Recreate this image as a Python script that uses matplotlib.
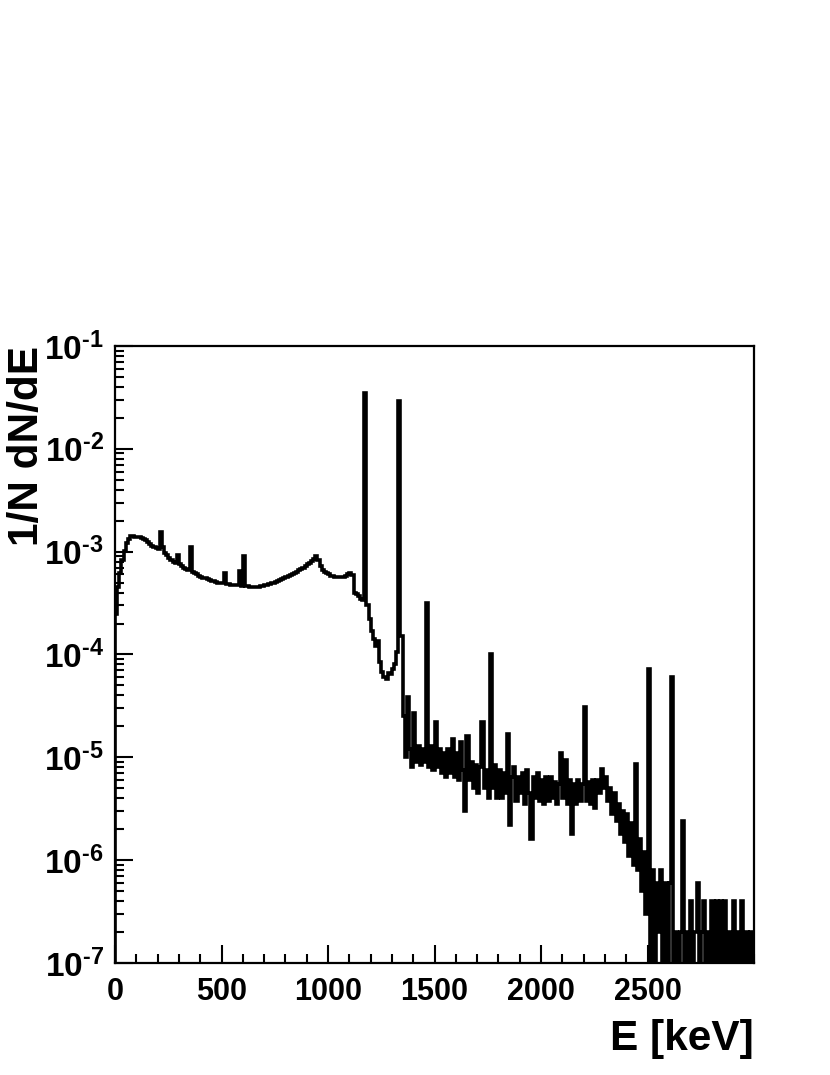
import numpy as np
import matplotlib
matplotlib.use("Agg")
import matplotlib.pyplot as plt
from matplotlib.ticker import FixedLocator, MultipleLocator, FuncFormatter, NullFormatter

plt.rcParams["font.family"] = "Liberation Sans"
plt.rcParams["font.weight"] = "bold"
plt.rcParams["mathtext.fontset"] = "custom"
plt.rcParams["mathtext.rm"] = "Liberation Sans:bold"
plt.rcParams["mathtext.it"] = "Liberation Sans:bold"
plt.rcParams["mathtext.bf"] = "Liberation Sans:bold"

# Histogramm: 10 keV Bins von 0 bis 3000 keV
bin_width = 10
energy_edges = np.arange(0, 3000 + bin_width, bin_width)

# 1/N dN/dE in Einheiten von 1e-6, eine Zeile pro 100 keV
spectrum_1e6 = [
    [250, 450, 620, 820, 1020, 1200, 1340, 1420, 1420, 1400],      # 0
    [1400, 1390, 1370, 1340, 1290, 1240, 1190, 1140, 1100, 1080],  # 100
    [1070, 1560, 1100, 980, 920, 870, 830, 800, 770, 930],         # 200
    [750, 730, 700, 680, 660, 1100, 630, 615, 600, 580],           # 300
    [570, 560, 550, 540, 530, 520, 515, 505, 500, 495],            # 400
    [490, 620, 485, 480, 478, 475, 472, 470, 650, 465],            # 500
    [910, 462, 458, 455, 452, 450, 452, 455, 458, 462],            # 600
    [470, 478, 485, 492, 500, 510, 520, 530, 542, 555],            # 700
    [568, 580, 595, 610, 625, 640, 660, 680, 700, 725],            # 800
    [750, 780, 815, 850, 900, 820, 720, 670, 640, 620],            # 900
    [600, 585, 575, 570, 565, 565, 565, 570, 580, 600],            # 1000
    [620, 590, 400, 385, 370, 345, 335, 35000, 300, 220],          # 1100
    [170, 140, 120, 135, 85, 68, 60, 58, 66, 64],                  # 1200
    [72, 80, 105, 29000, 150, 25, 10, 39, 12, 8],                  # 1300
    [27, 9, 13, 8.5, 12, 9, 320, 8, 13, 7.5],                      # 1400
    [22, 8, 12, 7, 11, 6.5, 12, 7, 15, 6.5],                       # 1500
    [11, 6, 14, 7.5, 3, 16, 6, 9, 5, 8.5],                         # 1600
    [4.5, 8, 22, 5, 7.5, 4, 100, 5, 8.5, 4],                       # 1700
    [7.5, 4, 7, 4.5, 17, 2.2, 6.5, 8, 3.8, 6.5],                   # 1800
    [4.5, 7, 3.5, 7.5, 4.5, 1.6, 6.5, 4, 7, 3.8],                  # 1900
    [6, 3.5, 6.5, 3.8, 6.5, 4, 5.8, 3.5, 5.5, 11],                 # 2000
    [4, 9.5, 3.5, 6, 1.8, 5.5, 3.5, 6, 3.8, 5.5],                  # 2100
    [31, 3.8, 5.8, 3.5, 6, 3.2, 6, 4.5, 7.7, 5],                   # 2200
    [6.5, 3.8, 5, 2.8, 4.5, 2.4, 3.5, 1.8, 3, 1.5],                # 2300
    [2.8, 1.1, 2.3, 0.9, 8.7, 0.8, 1.6, 0.5, 1.2, 0.3],            # 2400
    [72, 0, 0.8, 0, 0.6, 0.2, 0.8, 0, 0.6, 0],                     # 2500
    [0.6, 60, 0, 0.2, 0, 0.2, 2.4, 0, 0.2, 0],                     # 2600
    [0.4, 0, 0.2, 0.6, 0, 0.2, 0.4, 0, 0.2, 0],                    # 2700
    [0.4, 0, 0.4, 0, 0.4, 0, 0.4, 0, 0.2, 0],                      # 2800
    [0.4, 0, 0.2, 0, 0.4, 0, 0.2, 0, 0.2, 0],                      # 2900
]

x_ticks = [0, 500, 1000, 1500, 2000, 2500]
y_exponents = [-7, -6, -5, -4, -3, -2, -1]

values = np.array(spectrum_1e6, dtype=float).ravel() * 1e-6
# leere Bins werden im Log-Plot bis zum unteren Rand gezeichnet
values_plot = np.where(values > 0, values, 1e-9)

fig = plt.figure(figsize=(8.3, 10.75), dpi=100)
ax = fig.add_axes([0.1386, 0.1042, 0.7699, 0.5740])

ax.stairs(values_plot, energy_edges, color="black", linewidth=2.6, baseline=1e-9)

ax.set_yscale("log")
ax.set_ylim(1e-7, 1e-1)
ax.set_xlim(0, 3000)

# Ticks nur innerhalb des Bereichs
y_major = [10.0 ** e for e in y_exponents]
y_minor = [m * 10.0 ** e for e in y_exponents[:-1] for m in range(2, 10)]
ax.xaxis.set_major_locator(FixedLocator(x_ticks))
ax.xaxis.set_minor_locator(MultipleLocator(100))
ax.yaxis.set_major_locator(FixedLocator(y_major))
ax.yaxis.set_minor_locator(FixedLocator(y_minor))
ax.yaxis.set_minor_formatter(NullFormatter())
ax.yaxis.set_major_formatter(
    FuncFormatter(lambda v, p: r"$10^{\text{-}%d}$" % abs(round(np.log10(v)))))

ax.tick_params(which="both", direction="in", top=False, right=False, width=1.5)
ax.tick_params(which="major", length=13, pad=10)
ax.tick_params(which="minor", length=6.5)
ax.tick_params(axis="x", labelsize=22)
ax.tick_params(axis="y", labelsize=24, pad=8)
for s in ax.spines.values():
    s.set_linewidth(1.6)

ax.set_xlabel("E [keV]", fontsize=30.5, fontweight="bold", ha="right", va="baseline")
ax.xaxis.set_label_coords(1.0, -0.141)
ax.set_ylabel("1/N dN/dE", fontsize=30.5, fontweight="bold", ha="right", va="baseline")
ax.yaxis.set_label_coords(-0.1205, 1.0)

plt.savefig("out.png", dpi=100)
